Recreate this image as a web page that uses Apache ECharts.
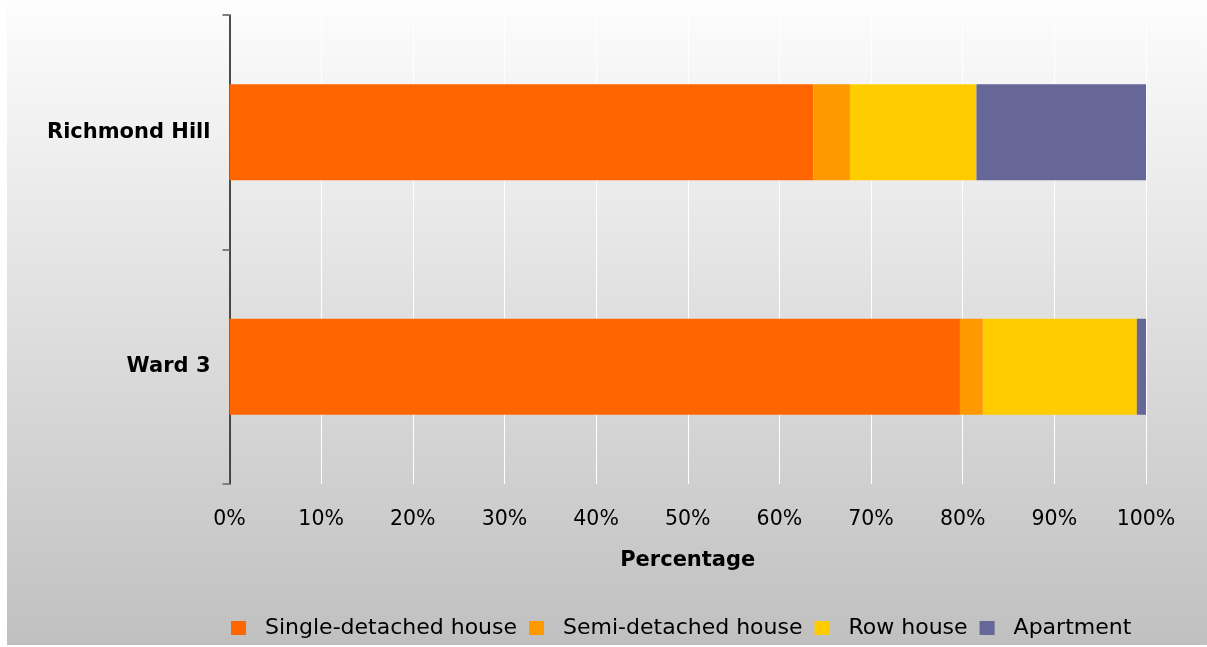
<!DOCTYPE html>
<html>
<head>
<meta charset="utf-8">
<script src="https://cdn.jsdelivr.net/npm/echarts@6/dist/echarts.min.js"></script>
<style>
html,body{margin:0;padding:0;background:#ffffff;}
#c{position:absolute;left:7px;top:0;width:1200px;height:645px;}
</style>
</head>
<body>
<div id="c"></div>
<script>
const categories = ['Richmond Hill', 'Ward 3'];
const seriesNames = ['Single-detached house', 'Semi-detached house', 'Row house', 'Apartment'];
const singleDetached = [63.7, 79.7];
const semiDetached = [4.0, 2.5];
const rowHouse = [13.8, 16.8];
const apartment = [18.5, 1.0];
const xTicks = [0, 10, 20, 30, 40, 50, 60, 70, 80, 90, 100];
const colors = ['#FF6600', '#FF9900', '#FFCC00', '#666699'];

const values = [singleDetached, semiDetached, rowHouse, apartment];
const chart = echarts.init(document.getElementById('c'));
const font = 'DejaVu Sans';
chart.setOption({
  animation: false,
  backgroundColor: {
    type: 'linear', x: 0, y: 0, x2: 0, y2: 1,
    colorStops: [{offset: 0, color: '#fdfdfd'}, {offset: 1, color: '#c0c0c0'}]
  },
  grid: {left: 222.5, right: 61, top: 15, bottom: 161, containLabel: false},
  legend: {
    left: 219, top: 612,
    itemWidth: 15, itemHeight: 14, itemGap: 12,
    icon: 'rect',
    data: seriesNames,
    textStyle: {fontFamily: font, fontSize: 22, color: '#000', padding: [0, 0, 0, 14]}
  },
  xAxis: {
    type: 'value', min: 0, max: 100, interval: 10,
    axisLine: {show: false}, axisTick: {show: false},
    splitLine: {show: true, lineStyle: {color: '#ffffff', width: 1}},
    axisLabel: {
      margin: 25, fontFamily: font, fontSize: 20.5, color: '#000',
      formatter: function (v) { return xTicks.indexOf(v) >= 0 ? v + '%' : ''; }
    },
    name: 'Percentage', nameLocation: 'middle', nameGap: 66,
    nameTextStyle: {fontFamily: font, fontSize: 21, fontWeight: 'bold', color: '#000'}
  },
  yAxis: {
    type: 'category', data: categories, inverse: true,
    axisLine: {show: true, lineStyle: {color: '#111', width: 1.5}},
    axisTick: {show: true, length: 7, inside: false, lineStyle: {color: '#808080', width: 2}},
    splitLine: {show: false},
    axisLabel: {margin: 19, fontFamily: font, fontSize: 21, fontWeight: 'bold', color: '#000'}
  },
  series: seriesNames.map(function (n, i) {
    return {
      name: n, type: 'bar', stack: 'total', barWidth: 96,
      itemStyle: {color: colors[i]},
      data: values[i]
    };
  })
});
</script>
</body>
</html>
